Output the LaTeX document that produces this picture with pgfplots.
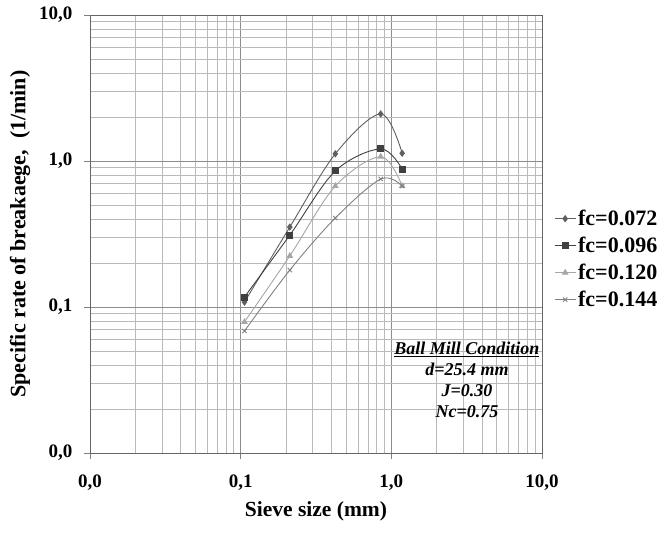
\documentclass[border=0pt]{standalone}
\usepackage{pgfplots}
\pgfplotsset{compat=1.18}
\usepackage{fontspec}
\setmainfont{Liberation Serif}

% greys of the four series
\definecolor{cA}{HTML}{5F5F5F}
\definecolor{cB}{HTML}{404040}
\definecolor{cC}{HTML}{A6A6A6}
\definecolor{cD}{HTML}{808080}

\begin{document}
\begin{tikzpicture}
  % page size fixed to the 665x533 frame (1px = 1pt)
  \path[use as bounding box] (-90pt,-80pt) rectangle (575pt,453pt);
  \begin{axis}[
    at={(0,0)}, anchor=south west,
    scale only axis,
    width=452pt, height=438pt,
    xmode=log, ymode=log,
    xmin=0.01, xmax=10,
    ymin=0.01, ymax=10,
    xtick={0.01,0.1,1,10},
    ytick={0.01,0.1,1,10},
    xticklabels={{0,0},{0,1},{1,0},{10,0}},
    yticklabels={{0,0},{0,1},{1,0},{10,0}},
    ticklabel style={font=\fontsize{19}{22}\selectfont\bfseries},
    xticklabel style={yshift=-12pt},
    yticklabel style={xshift=-8pt},
    tick pos=left,
    tick align=outside,
    major tick length=6pt,
    minor tick length=0pt,
    tick style={color=gray, line width=0.8pt},
    grid=both,
    major grid style={color=gray!90, line width=0.8pt},
    minor grid style={color=gray!55, line width=0.7pt},
    axis line style={color=gray!80!black, line width=0.8pt},
    xlabel={Sieve size (mm)},
    ylabel={Specific rate of breakaege,~ (1/min)},
    every axis x label/.style={at={(rel axis cs:0.5,0)}, anchor=center, yshift=-58pt,
      font=\fontsize{21.5}{26}\selectfont\bfseries},
    every axis y label/.style={at={(rel axis cs:0,0.5)}, anchor=center, xshift=-70pt, rotate=90,
      font=\fontsize{22}{26}\selectfont\bfseries},
    legend style={
      at={(rel axis cs:1.02,0.564)}, anchor=north west,
      draw=none, fill=none,
      font=\fontsize{22}{26}\selectfont\bfseries,
      row sep=6pt,
      cells={anchor=west},
    },
    legend image code/.code={%
      \draw[mark repeat=2, mark phase=2] plot coordinates {(0pt,0pt) (10.5pt,0pt) (21pt,0pt)};
    },
    every axis plot/.append style={line width=0.9pt, smooth, tension=0.55},
  ]
    \addplot[color=cA, mark=diamond*, mark size=3pt] coordinates {
      (0.106,0.108) (0.212,0.353) (0.425,1.12) (0.85,2.10) (1.18,1.13)
    };
    \addlegendentry{fc=0.072}
    \addplot[color=cB, mark=square*, mark size=3pt] coordinates {
      (0.106,0.117) (0.212,0.311) (0.425,0.855) (0.85,1.21) (1.18,0.88)
    };
    \addlegendentry{fc=0.096}
    \addplot[color=cC, mark=triangle*, mark size=3pt] coordinates {
      (0.106,0.079) (0.212,0.224) (0.425,0.674) (0.85,1.07) (1.18,0.674)
    };
    \addlegendentry{fc=0.120}
    \addplot[color=cD, mark=x, mark size=3pt] coordinates {
      (0.106,0.0685) (0.212,0.179) (0.425,0.407) (0.85,0.753) (1.18,0.674)
    };
    \addlegendentry{fc=0.144}

    \node[align=center, font=\fontsize{18}{21}\selectfont\bfseries\itshape]
      at (rel axis cs:0.834,0.166)
      {\underline{Ball Mill Condition}\\ d=25.4 mm\\ J=0.30\\ Nc=0.75};
  \end{axis}
\end{tikzpicture}
\end{document}
